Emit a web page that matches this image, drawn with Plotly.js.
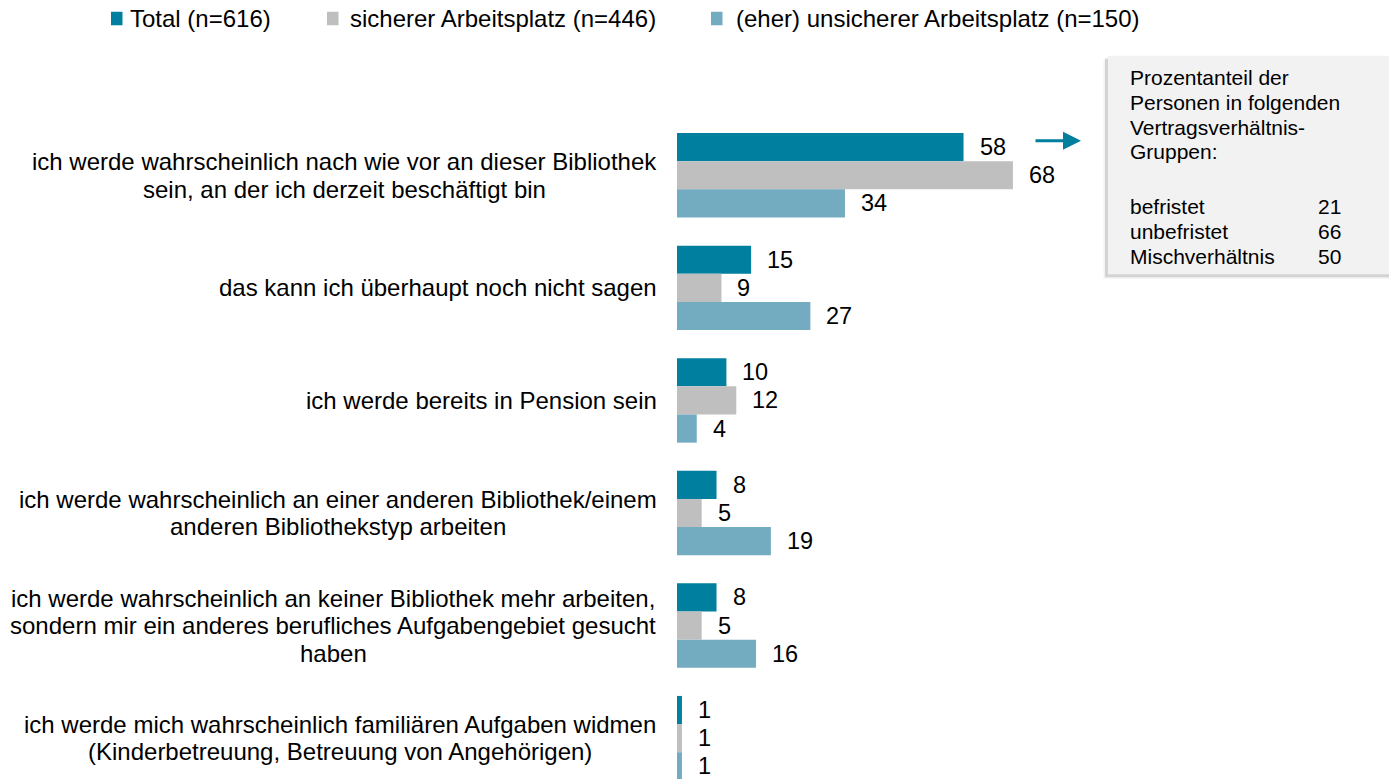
<!DOCTYPE html>
<html>
<head>
<meta charset="utf-8">
<script src="https://cdn.plot.ly/plotly-3.0.1.min.js"></script>
<style>html,body{margin:0;padding:0;background:#fff;}#chart{width:1389px;height:779px;}</style>
</head>
<body>
<div id="chart"></div>
<script>
// ---- data ----
const categories = [
  'ich werde wahrscheinlich nach wie vor an dieser Bibliothek<br>sein, an der ich derzeit beschäftigt bin',
  'das kann ich überhaupt noch nicht sagen',
  'ich werde bereits in Pension sein',
  'ich werde wahrscheinlich an einer anderen Bibliothek/einem<br>anderen Bibliothekstyp arbeiten',
  'ich werde wahrscheinlich an keiner Bibliothek mehr arbeiten,<br>sondern mir ein anderes berufliches Aufgabengebiet gesucht<br>haben',
  'ich werde mich wahrscheinlich familiären Aufgaben widmen<br>(Kinderbetreuung, Betreuung von Angehörigen)'
];
const seriesNames = ['Total (n=616)', 'sicherer Arbeitsplatz (n=446)', '(eher) unsicherer Arbeitsplatz (n=150)'];
const totalValues = [58, 15, 10, 8, 8, 1];
const sichererValues = [68, 9, 12, 5, 5, 1];
const unsichererValues = [34, 27, 4, 19, 16, 1];
const boxTitleLines = ['Prozentanteil der', 'Personen in folgenden', 'Vertragsverhältnis-', 'Gruppen:'];
const contractTypes = ['befristet', 'unbefristet', 'Mischverhältnis'];
const contractShares = [21, 66, 50];

// ---- style ----
const colors = ['#007F9F', '#BFBFBF', '#73ACC1'];
const FONT = '"Liberation Sans", Arial, sans-serif';
const W = 1389, H = 779;
const L = 677, T = 119.2, B = 0, R = 0;
const plotW = W - L - R, plotH = H - T - B;
const px = x => (x - L) / plotW;
const py = y => (H - B - y) / plotH;

const canvas = document.createElement('canvas');
const ctx = canvas.getContext('2d');
function textWidth(s, size) { ctx.font = size + 'px "Liberation Sans"'; return ctx.measureText(s).width; }

const yKeys = categories.map(c => c.replace(/<br>/g, ' '));
const seriesValues = [totalValues, sichererValues, unsichererValues];

const traces = seriesValues.map((vals, k) => ({
  type: 'bar', orientation: 'h', name: seriesNames[k],
  x: vals, y: yKeys, marker: { color: colors[k], line: { width: 0 } },
  hoverinfo: 'x+y'
}));

const annotations = [];
const shapes = [];

// category labels (centered lines, block right-aligned)
const catFont = 24, catSpacing = 27.5, labelRight = 657;
categories.forEach((c, i) => {
  const lines = c.split('<br>');
  const maxW = Math.max(...lines.map(l => textWidth(l, catFont)));
  const cx = labelRight - maxW / 2;
  lines.forEach((ln, j) => {
    annotations.push({
      xref: 'paper', yref: 'y', x: px(cx), y: i, xanchor: 'center', yanchor: 'middle',
      yshift: ((lines.length - 1) / 2 - j) * catSpacing,
      text: ln, showarrow: false, font: { family: FONT, size: catFont, color: '#000' }
    });
  });
});

// value labels
seriesValues.forEach((vals, k) => {
  vals.forEach((v, i) => {
    annotations.push({
      xref: 'x', yref: 'y', x: v, y: i + (k - 1) * 0.25, xanchor: 'left', yanchor: 'middle',
      xshift: 14, text: String(v), showarrow: false,
      font: { family: FONT, size: 23.5, color: '#000' }
    });
  });
});

// legend
const legendSquareX = [111, 327, 711];
const legendTextX = [128, 348, 734];
seriesNames.forEach((n, k) => {
  shapes.push({ type: 'rect', xref: 'paper', yref: 'paper', x0: px(legendSquareX[k]), x1: px(legendSquareX[k] + 11.5),
    y0: py(25.5), y1: py(12), fillcolor: colors[k], line: { width: 0 } });
  annotations.push({ xref: 'paper', yref: 'paper', x: px(legendTextX[k]), y: py(18.5), xanchor: 'left', yanchor: 'middle',
    text: n, showarrow: false, font: { family: FONT, size: 24, color: '#000' } });
});

// info box with shadow
shapes.push({ type: 'rect', xref: 'paper', yref: 'paper', x0: px(1103.5), x1: px(1389), y0: py(279), y1: py(60),
  fillcolor: 'rgba(0,0,0,0.05)', line: { width: 0 } });
shapes.push({ type: 'rect', xref: 'paper', yref: 'paper', x0: px(1105), x1: px(1389), y0: py(277.5), y1: py(58.5),
  fillcolor: 'rgba(0,0,0,0.12)', line: { width: 0 } });
shapes.push({ type: 'rect', xref: 'paper', yref: 'paper', x0: px(1108), x1: px(1389), y0: py(274.5), y1: py(56),
  fillcolor: '#F2F2F2', line: { width: 0 } });

const boxFont = 21, boxLeft = 1128, boxRight = 1343;
const titleTop = 78, titleSpacing = 24.6, dataTop = 207, dataSpacing = 25;
boxTitleLines.forEach((ln, j) => {
  annotations.push({ xref: 'paper', yref: 'paper', x: px(boxLeft), y: py(titleTop + j * titleSpacing), xanchor: 'left', yanchor: 'middle',
    text: ln, showarrow: false, font: { family: FONT, size: boxFont, color: '#000' } });
});
contractTypes.forEach((ct, j) => {
  const yy = dataTop + j * dataSpacing;
  annotations.push({ xref: 'paper', yref: 'paper', x: px(boxLeft), y: py(yy), xanchor: 'left', yanchor: 'middle',
    text: ct, showarrow: false, font: { family: FONT, size: boxFont, color: '#000' } });
  annotations.push({ xref: 'paper', yref: 'paper', x: px(boxRight), y: py(yy), xanchor: 'right', yanchor: 'middle',
    text: String(contractShares[j]), showarrow: false, font: { family: FONT, size: boxFont, color: '#000' } });
});

// arrow pointing to info box
annotations.push({ xref: 'paper', yref: 'paper', x: px(1081), y: py(141), ax: -47, ay: 0,
  showarrow: true, arrowhead: 2, arrowsize: 1.2, arrowwidth: 3, arrowcolor: colors[0], standoff: 0, text: '' });

const layout = {
  width: W, height: H,
  margin: { l: L, r: R, t: T, b: B, pad: 0 },
  paper_bgcolor: '#fff', plot_bgcolor: 'rgba(0,0,0,0)',
  barmode: 'group', bargap: 0.25, bargroupgap: 0,
  showlegend: false,
  xaxis: { range: [0, plotW / 4.94], visible: false, fixedrange: true },
  yaxis: { type: 'category', range: [-0.5 + plotH / 112.54, -0.5], visible: false, fixedrange: true },
  annotations: annotations, shapes: shapes,
  font: { family: FONT }
};

Plotly.newPlot('chart', traces, layout, { displayModeBar: false, staticPlot: true });
</script>
</body>
</html>
